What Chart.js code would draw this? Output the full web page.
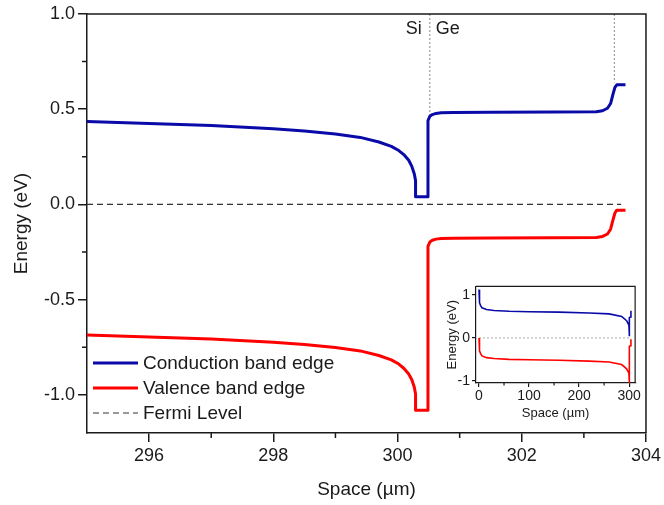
<!DOCTYPE html>
<html>
<head>
<meta charset="utf-8">
<script src="https://cdn.jsdelivr.net/npm/chart.js@4.4.1/dist/chart.umd.min.js"></script>
<style>
  html, body { margin: 0; padding: 0; background: #fff; }
  #wrap { position: relative; width: 664px; height: 505px; }
  #main { position: absolute; left: 0; top: 0; }
  #inset { position: absolute; left: 440px; top: 276px; }
</style>
</head>
<body>
<div id="wrap">
  <canvas id="main" width="664" height="505"></canvas>
  <canvas id="inset" width="202" height="146"></canvas>
</div>
<script>
// Band edges around the Si/Ge junction (space in µm, energy in eV)
const space = [295, 296, 297, 298, 298.5, 299, 299.4, 299.7, 299.9, 300.02, 300.1, 300.18, 300.23, 300.27, 300.29,
               300.29, 300.49, 300.49, 300.52, 300.56, 300.62, 300.7, 300.9, 301.5, 302.5, 303.2, 303.3, 303.38,
               303.43, 303.47, 303.5, 303.53, 303.67];
const conductionBand = [0.435, 0.425, 0.414, 0.397, 0.386, 0.370, 0.352, 0.328, 0.305, 0.283, 0.262, 0.232, 0.200, 0.160, 0.125,
                        0.040, 0.040, 0.440, 0.463, 0.472, 0.478, 0.481, 0.483, 0.484, 0.485, 0.487, 0.492, 0.505,
                        0.530, 0.580, 0.615, 0.628, 0.628];
const valenceBand = [-0.686, -0.696, -0.707, -0.724, -0.735, -0.751, -0.769, -0.793, -0.816, -0.838, -0.860, -0.890, -0.920, -0.960, -0.995,
                     -1.080, -1.080, -0.220, -0.197, -0.188, -0.182, -0.179, -0.177, -0.176, -0.175, -0.173, -0.168, -0.155,
                     -0.130, -0.080, -0.045, -0.030, -0.030];

const fermiSpan = [295, 303.6];
const fermiLevel = 0;

// Si/Ge interface and Ge end marker
const interfaceX = [300.52, 303.49];
const interfaceBottom = [0.47, 0.64];
const regionLabels = ['Si', 'Ge'];

const xTicks = [296, 298, 300, 302, 304];
const yTicks = [-1.0, -0.5, 0.0, 0.5, 1.0];
const xMinorTicks = [297, 299, 301, 303];
const yMinorTicks = [-0.75, -0.25, 0.25, 0.75];

// Inset: whole device
const insetSpace = [0, 0.5, 1.5, 3, 6, 15, 30, 60, 100, 160, 220, 260, 285, 295, 299.5, 300.3, 300.3, 300.5, 300.5, 303, 303.5, 303.7];
const insetConduction = [1.13, 0.95, 0.82, 0.76, 0.70, 0.66, 0.64, 0.62, 0.61, 0.60, 0.58, 0.56, 0.50, 0.40, 0.30, 0.12, 0.04, 0.04, 0.47, 0.49, 0.63, 0.63];
const insetValence = [0.00, -0.17, -0.30, -0.36, -0.42, -0.46, -0.48, -0.50, -0.51, -0.52, -0.54, -0.56, -0.62, -0.72, -0.82, -1.00, -1.08, -1.08, -0.20, -0.18, -0.03, -0.03];
const insetFermiSpan = [0, 300];
const insetXTicks = [0, 100, 200, 300];
const insetYTicks = [-1, 0, 1];
const insetXMinorTicks = [50, 150, 250];

const BLUE = '#0a0aa8';
const RED = '#ff0000';
const INK = '#1a1a1a';

Chart.defaults.font.family = '"Liberation Sans", Arial, Helvetica, sans-serif';
Chart.defaults.color = INK;

function zip(xs, ys) {
    return xs.map((x, i) => ({ x: x, y: ys[i] }));
}

// top/right border and minor ticks
function framePlugin(minorX, minorY, minorLen, lineW) {
    return {
        id: 'frame',
        afterDraw(chart) {
            const { ctx, chartArea: a, scales: { x, y } } = chart;
            ctx.save();
            ctx.strokeStyle = INK;
            ctx.lineWidth = lineW;
            ctx.beginPath();
            ctx.moveTo(a.left, a.top);
            ctx.lineTo(a.right, a.top);
            ctx.lineTo(a.right, a.bottom);
            minorX.forEach(v => {
                const px = x.getPixelForValue(v);
                ctx.moveTo(px, a.bottom);
                ctx.lineTo(px, a.bottom + minorLen);
            });
            minorY.forEach(v => {
                const py = y.getPixelForValue(v);
                ctx.moveTo(a.left, py);
                ctx.lineTo(a.left - minorLen, py);
            });
            ctx.stroke();
            ctx.restore();
        }
    };
}

// legend in lower-left corner of the plot
const bandLegend = {
    id: 'bandLegend',
    afterDraw(chart) {
        const { ctx, chartArea: a } = chart;
        const x0 = a.left + 6, len = 45;
        const rows = [a.bottom - 70, a.bottom - 45, a.bottom - 20];
        chart.data.datasets.slice(0, 3).forEach((ds, i) => {
            ctx.save();
            ctx.strokeStyle = ds.borderColor;
            ctx.lineWidth = ds.borderWidth;
            ctx.setLineDash(ds.borderDash || []);
            ctx.beginPath();
            ctx.moveTo(x0, rows[i]);
            ctx.lineTo(x0 + len, rows[i]);
            ctx.stroke();
            ctx.setLineDash([]);
            ctx.fillStyle = INK;
            ctx.font = '19px "Liberation Sans", Arial, sans-serif';
            ctx.textBaseline = 'middle';
            ctx.textAlign = 'left';
            ctx.fillText(ds.label, x0 + len + 5, rows[i] + 1);
            ctx.restore();
        });
    }
};

// "Si | Ge" labels beside the interface line
const regionText = {
    id: 'regionText',
    afterDraw(chart) {
        const { ctx, chartArea: a, scales: { x } } = chart;
        const px = x.getPixelForValue(interfaceX[0]);
        ctx.save();
        ctx.fillStyle = INK;
        ctx.font = '18px "Liberation Sans", Arial, sans-serif';
        ctx.textBaseline = 'middle';
        ctx.textAlign = 'right';
        ctx.fillText(regionLabels[0], px - 8, a.top + 15);
        ctx.textAlign = 'left';
        ctx.fillText(regionLabels[1], px + 6, a.top + 15);
        ctx.restore();
    }
};

new Chart(document.getElementById('main').getContext('2d'), {
    type: 'line',
    data: {
        datasets: [
            {
                label: 'Conduction band edge',
                data: zip(space, conductionBand),
                borderColor: BLUE,
                borderWidth: 3
            },
            {
                label: 'Valence band edge',
                data: zip(space, valenceBand),
                borderColor: RED,
                borderWidth: 3
            },
            {
                label: 'Fermi Level',
                data: zip(fermiSpan, [fermiLevel, fermiLevel]),
                borderColor: '#333',
                borderWidth: 1.2,
                borderDash: [6, 4]
            },
            {
                label: 'Si/Ge interface',
                data: [{ x: interfaceX[0], y: 1.0 }, { x: interfaceX[0], y: interfaceBottom[0] }],
                borderColor: '#888',
                borderWidth: 1,
                borderDash: [2, 2]
            },
            {
                label: 'Ge end',
                data: [{ x: interfaceX[1], y: 1.0 }, { x: interfaceX[1], y: interfaceBottom[1] }],
                borderColor: '#888',
                borderWidth: 1,
                borderDash: [2, 2]
            }
        ]
    },
    options: {
        responsive: false,
        animation: false,
        devicePixelRatio: 1,
        elements: { point: { radius: 0 }, line: { tension: 0, borderCapStyle: 'butt', borderJoinStyle: 'round' } },
        layout: { padding: { top: 14, right: 16, left: 0, bottom: 0 } },
        plugins: { legend: { display: false }, tooltip: { enabled: false } },
        scales: {
            x: {
                type: 'linear',
                min: 295,
                max: 304,
                afterBuildTicks: s => { s.ticks = xTicks.map(v => ({ value: v })); },
                afterFit: s => { s.height = 72; },
                grid: { drawOnChartArea: false, drawTicks: true, tickLength: 9, color: INK, lineWidth: 1.5 },
                border: { display: true, color: INK, width: 1.5 },
                ticks: { font: { size: 18 }, padding: 3, maxRotation: 0, color: INK },
                title: { display: true, text: 'Space (\u00b5m)', font: { size: 19 }, padding: { top: 4, bottom: 4 }, color: INK }
            },
            y: {
                type: 'linear',
                min: -1.2,
                max: 1.0,
                afterBuildTicks: s => { s.ticks = yTicks.map(v => ({ value: v })); },
                afterFit: s => { s.width = 87; },
                grid: { drawOnChartArea: false, drawTicks: true, tickLength: 9, color: INK, lineWidth: 1.5 },
                border: { display: true, color: INK, width: 1.5 },
                ticks: { font: { size: 18 }, padding: 3, color: INK, callback: v => v.toFixed(1) },
                title: { display: true, text: 'Energy (eV)', font: { size: 19 }, padding: { top: 10, bottom: 0 }, color: INK }
            }
        }
    },
    plugins: [framePlugin(xMinorTicks, yMinorTicks, 5, 1.5), bandLegend, regionText]
});

new Chart(document.getElementById('inset').getContext('2d'), {
    type: 'line',
    data: {
        datasets: [
            {
                label: 'Conduction band edge',
                data: zip(insetSpace, insetConduction),
                borderColor: BLUE,
                borderWidth: 1.6
            },
            {
                label: 'Valence band edge',
                data: zip(insetSpace, insetValence),
                borderColor: RED,
                borderWidth: 1.6
            },
            {
                label: 'Fermi Level',
                data: zip(insetFermiSpan, [fermiLevel, fermiLevel]),
                borderColor: '#aaa',
                borderWidth: 1,
                borderDash: [2, 2]
            }
        ]
    },
    options: {
        responsive: false,
        animation: false,
        devicePixelRatio: 1,
        elements: { point: { radius: 0 }, line: { tension: 0 } },
        layout: { padding: { top: 7, right: 5, left: 0, bottom: 0 } },
        plugins: { legend: { display: false }, tooltip: { enabled: false } },
        scales: {
            x: {
                type: 'linear',
                min: -6,
                max: 312,
                afterBuildTicks: s => { s.ticks = insetXTicks.map(v => ({ value: v })); },
                afterFit: s => { s.height = 39; },
                grid: { drawOnChartArea: false, drawTicks: true, tickLength: 4, color: INK, lineWidth: 1.2 },
                border: { display: true, color: INK, width: 1.2 },
                ticks: { font: { size: 14 }, padding: 1, maxRotation: 0, color: INK },
                title: { display: true, text: 'Space (\u00b5m)', font: { size: 13 }, padding: { top: 0, bottom: 1 }, color: INK }
            },
            y: {
                type: 'linear',
                min: -1.05,
                max: 1.2,
                afterBuildTicks: s => { s.ticks = insetYTicks.map(v => ({ value: v })); },
                afterFit: s => { s.width = 36; },
                grid: { drawOnChartArea: false, drawTicks: true, tickLength: 4, color: INK, lineWidth: 1.2 },
                border: { display: true, color: INK, width: 1.2 },
                ticks: { font: { size: 14 }, padding: 2, color: INK },
                title: { display: true, text: 'Energy (eV)', font: { size: 13 }, padding: { top: 5, bottom: 0 }, color: INK }
            }
        }
    },
    plugins: [framePlugin(insetXMinorTicks, [], 2.5, 1.2)]
});
</script>
</body>
</html>
